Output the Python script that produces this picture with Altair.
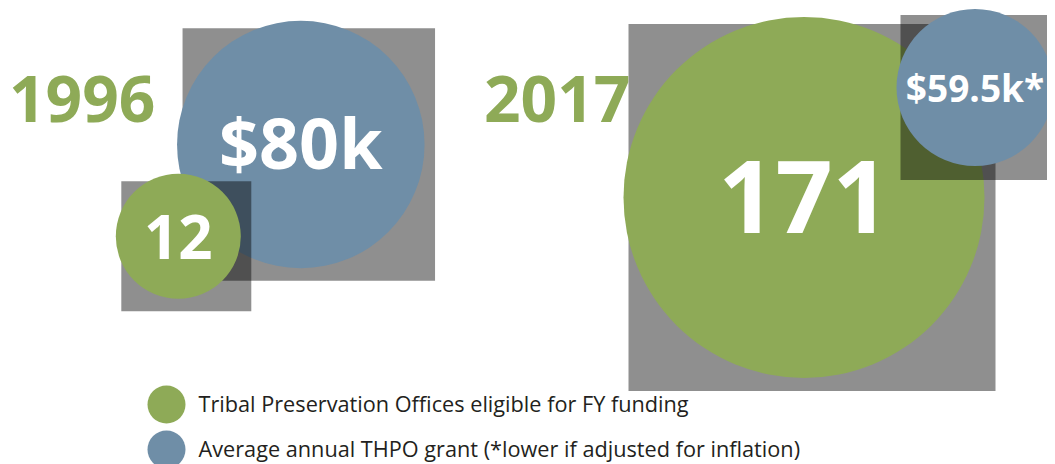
import altair as alt
import pandas as pd

# ---------------- data ----------------
years = ["1996", "2017"]
offices = [12, 171]              # Tribal Preservation Offices eligible
grants = [80, 59.5]              # average annual THPO grant, $k
office_labels = ["12", "171"]
grant_labels = ["$80k", "$59.5k*"]
categories = [
    "Tribal Preservation Offices eligible for FY funding",
    "Average annual THPO grant (*lower if adjusted for inflation)",
]

# ---------------- style / layout ----------------
GREEN = "#8eaa57"
BLUE = "#6f8ea7"
FONT = "Open Sans"
W, H = 1039, 456
# circle centres in page pixels (infographic layout)
centers = {("1996", 0): (178.3, 236.3), ("1996", 1): (300.8, 144.5),
           ("2017", 0): (804.0, 197.5), ("2017", 1): (975.0, 87.5)}
year_anchor = {"1996": (9, 121.7), "2017": (484, 121.7)}
draw_order = {"1996": [1, 0], "2017": [0, 1]}   # bigger disc first
circ_range = {0: [125 ** 2, 361 ** 2], 1: [157 ** 2, 247.5 ** 2]}
sq_range = {0: [130 ** 2, 367 ** 2], 1: [165 ** 2, 252.5 ** 2]}
font_range = {0: [60, 100], 1: [37, 70]}
text_dy = {0: 5, 1: 3}
domains = {0: [min(offices), max(offices)], 1: [min(grants), max(grants)]}

rows = []
for i, yr in enumerate(years):
    for k, (vals, labs) in enumerate([(offices, office_labels), (grants, grant_labels)]):
        cx, cy = centers[(yr, k)]
        rows.append(dict(year=yr, cat=categories[k], k=k, value=vals[i],
                         label=labs[i], cx=cx, cy=cy))
df = pd.DataFrame(rows)
ydf = pd.DataFrame(dict(year=years,
                        cx=[year_anchor[y][0] for y in years],
                        cy=[year_anchor[y][1] for y in years]))

X = alt.X("cx:Q", scale=alt.Scale(domain=[8, 8 + W], nice=False, zero=False), axis=None)
Y = alt.Y("cy:Q", scale=alt.Scale(domain=[8, 8 + H], nice=False, zero=False, reverse=True), axis=None)

legend = alt.Legend(title=None, orient="none", legendX=139.5, legendY=377.5,
                    direction="vertical", symbolType="circle", symbolSize=1444,
                    symbolStrokeWidth=0, symbolOpacity=1, labelFont=FONT,
                    labelFontSize=21.7, labelColor="#231f20", labelOffset=13,
                    labelLimit=1000, rowPadding=7, padding=0)
COLOR = alt.Color("cat:N", scale=alt.Scale(domain=categories, range=[GREEN, BLUE]),
                  legend=legend)

base = alt.Chart(df)
layers = []
for yr in years:
    for k in draw_order[yr]:
        sub = base.transform_filter((alt.datum.year == yr) & (alt.datum.k == k))
        layers.append(sub.mark_square(color="black", opacity=0.44, xOffset=8, yOffset=10).encode(
            x=X, y=Y,
            size=alt.Size("value:Q", scale=alt.Scale(domain=domains[k], range=sq_range[k], zero=False), legend=None),
        ))
        layers.append(sub.mark_circle(opacity=1).encode(
            x=X, y=Y, color=COLOR,
            size=alt.Size("value:Q", scale=alt.Scale(domain=domains[k], range=circ_range[k], zero=False), legend=None),
        ))

for k in [0, 1]:
    sub = base.transform_filter(alt.datum.k == k)
    layers.append(sub.mark_text(font=FONT, fontWeight="bold", color="white", align="center",
                                baseline="middle", dy=text_dy[k]).encode(
        x=X, y=Y, text="label:N",
        size=alt.Size("value:Q", scale=alt.Scale(domain=domains[k], range=font_range[k], zero=False), legend=None),
    ))

layers.append(alt.Chart(ydf).mark_text(font=FONT, fontWeight="bold", color=GREEN, align="left",
                                       baseline="alphabetic", fontSize=64).encode(
    x=X, y=Y, text="year:N"))

chart = alt.layer(*layers).resolve_scale(size="independent").properties(
    width=W, height=H, padding=0, autosize=alt.AutoSizeParams(type="none"),
    background="white",
).configure_view(stroke=None)

chart.save("out.html", embed_options={"renderer": "svg", "actions": False})
